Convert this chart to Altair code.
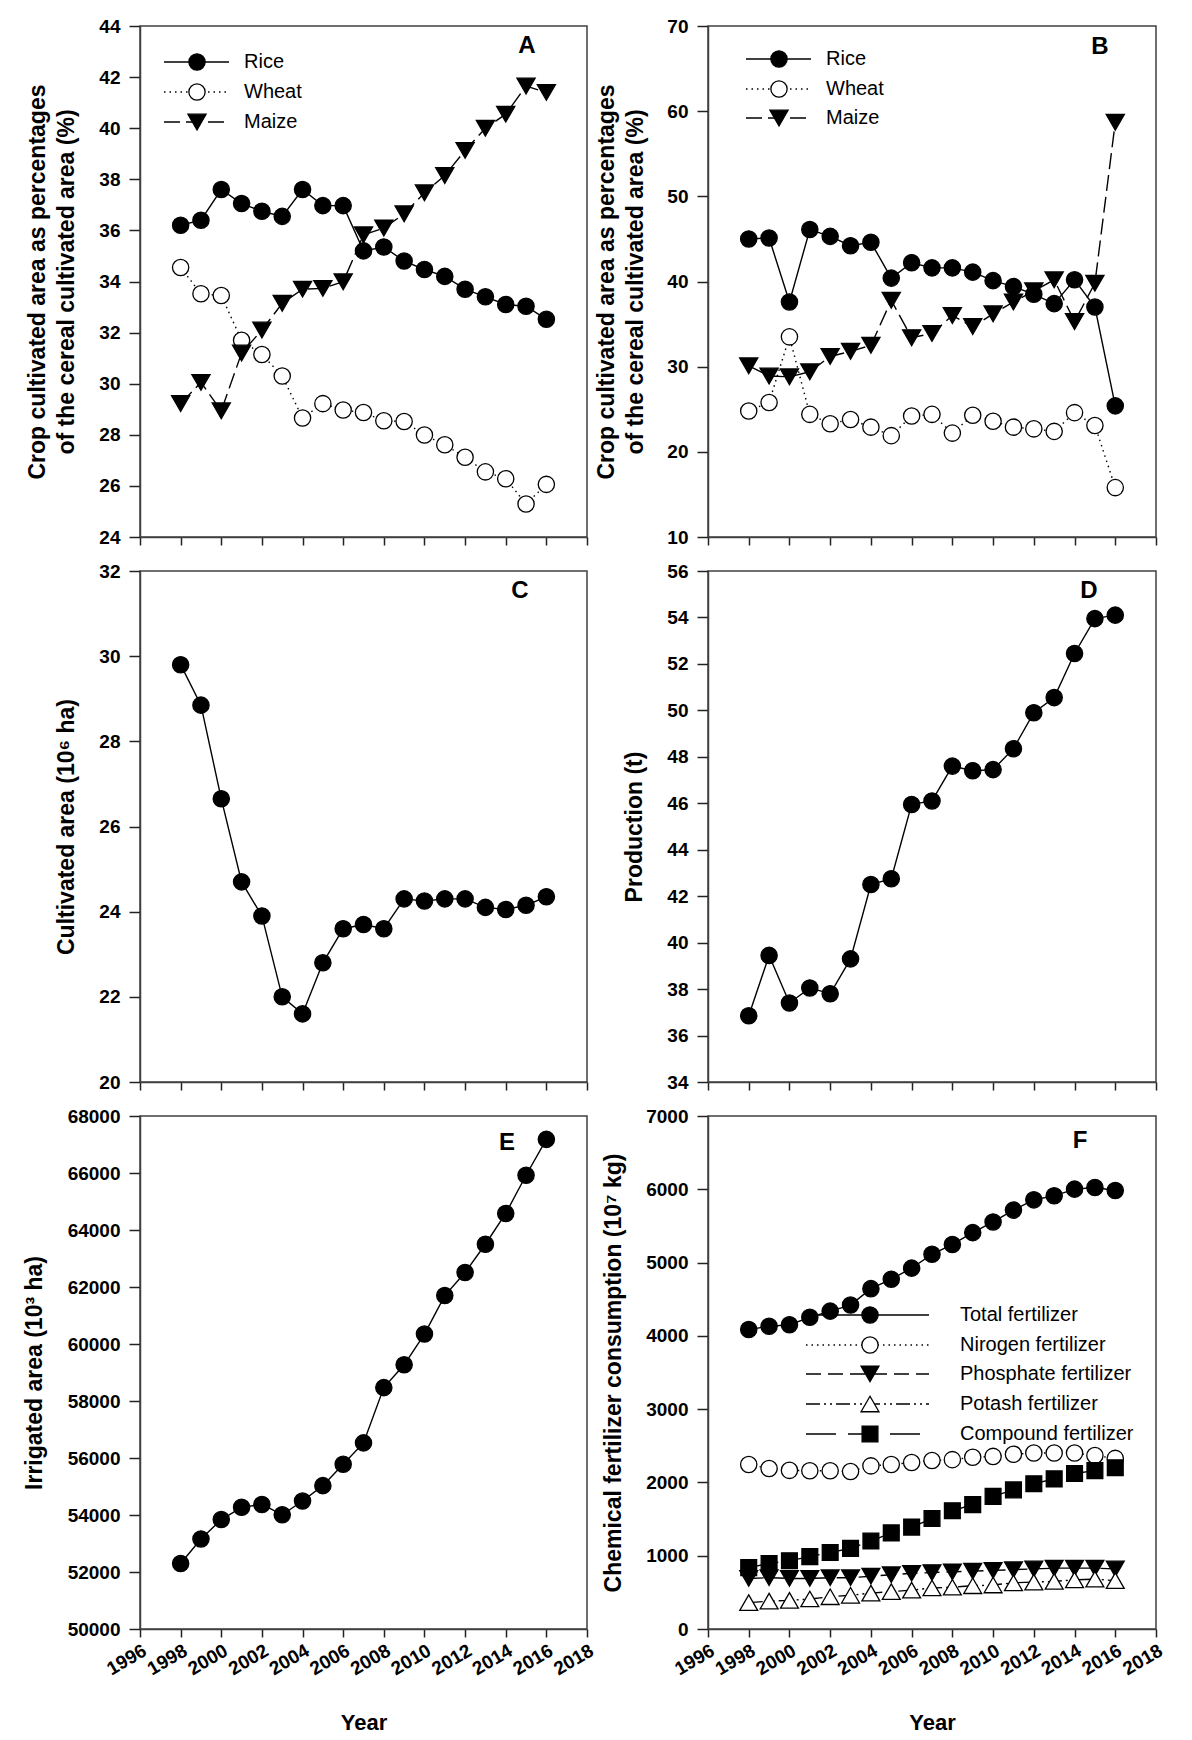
import altair as alt
import pandas as pd

# ---------------- data ----------------
years = list(range(1998, 2017))

# Panel A
a_rice = [36.2, 36.4, 37.6, 37.05, 36.75, 36.55, 37.6, 36.97, 36.97, 35.2, 35.35, 34.8, 34.47, 34.2, 33.7, 33.4, 33.1, 33.03, 32.52]
a_wheat = [34.55, 33.52, 33.45, 31.7, 31.14, 30.3, 28.66, 29.22, 28.97, 28.87, 28.55, 28.52, 27.99, 27.61, 27.12, 26.55, 26.28, 25.29, 26.06]
a_maize = [29.22, 30.05, 28.94, 31.2, 32.1, 33.15, 33.7, 33.73, 33.99, 35.83, 36.09, 36.65, 37.47, 38.15, 39.13, 40.0, 40.55, 41.65, 41.4]

# Panel B
b_rice = [45.0, 45.1, 37.6, 46.1, 45.3, 44.2, 44.6, 40.4, 42.2, 41.6, 41.6, 41.1, 40.1, 39.4, 38.5, 37.4, 40.2, 37.0, 25.4]
b_wheat = [24.8, 25.8, 33.5, 24.4, 23.3, 23.8, 22.9, 21.9, 24.2, 24.4, 22.2, 24.3, 23.6, 22.9, 22.7, 22.4, 24.6, 23.1, 15.8]
b_maize = [30.1, 28.9, 28.8, 29.4, 31.2, 31.8, 32.5, 37.8, 33.4, 33.9, 36.0, 34.7, 36.2, 37.6, 38.9, 40.2, 35.3, 39.8, 58.7]

# Panel C
c_area = [29.8, 28.85, 26.65, 24.7, 23.9, 22.0, 21.6, 22.8, 23.6, 23.7, 23.6, 24.3, 24.25, 24.3, 24.3, 24.1, 24.05, 24.15, 24.35]

# Panel D
d_prod = [36.85, 39.45, 37.4, 38.05, 37.8, 39.3, 42.5, 42.75, 45.95, 46.1, 47.6, 47.4, 47.45, 48.35, 49.9, 50.55, 52.45, 53.95, 54.1]

# Panel E
e_irr = [52300, 53160, 53840, 54270, 54370, 54010, 54490, 55030, 55780, 56530, 58470, 59270, 60350, 61700, 62510, 63500, 64580, 65920, 67180]

# Panel F
f_total = [4086, 4130, 4152, 4253, 4337, 4420, 4644, 4773, 4924, 5113, 5247, 5409, 5554, 5716, 5856, 5911, 6002, 6025, 5984]
f_nitrogen = [2244, 2190, 2165, 2160, 2160, 2150, 2226, 2244, 2272, 2300, 2311, 2344, 2355, 2384, 2401, 2401, 2401, 2367, 2328]
f_phosphate = [690, 700, 690, 690, 700, 700, 720, 740, 760, 770, 780, 790, 800, 810, 820, 830, 830, 830, 820]
f_potash = [360, 380, 390, 410, 440, 460, 490, 510, 530, 560, 570, 590, 600, 630, 640, 650, 670, 680, 660]
f_compound = [837, 893, 932, 988, 1044, 1100, 1200, 1312, 1390, 1507, 1614, 1697, 1809, 1898, 1982, 2049, 2122, 2161, 2200]

crop_labels = ["Rice", "Wheat", "Maize"]
fert_labels = ["Total fertilizer", "Nirogen fertilizer", "Phosphate fertilizer", "Potash fertilizer", "Compound fertilizer"]
x_ticks = list(range(1996, 2019, 2))

# ---------------- styles ----------------
FONT = "Liberation Sans"
W_L, W_R = 447, 448
H_ROW = [511, 511, 513]

STY_RICE = dict(dash=None, shape="circle", fill="black", size=265)
STY_WHEAT = dict(dash=[1.5, 4], shape="circle", fill="white", size=265)
STY_MAIZE = dict(dash=[16, 6], shape="triangle-down", fill="black", size=330)
STY_TOTAL = dict(dash=None, shape="circle", fill="black", size=265)
STY_N = dict(dash=[1.5, 4], shape="circle", fill="white", size=265)
STY_P = dict(dash=[15, 7], shape="triangle-down", fill="black", size=320)
STY_K = dict(dash=[14, 4, 2, 4, 2, 4], shape="triangle-up", fill="white", size=320)
STY_C = dict(dash=[30, 12], shape="square", fill="black", size=250)


def x_enc(width, bottom):
    if bottom:
        axis = alt.Axis(values=x_ticks, format="d", labelAngle=-30, labelAlign="right",
                        labelBaseline="top", labelPadding=4, tickSize=8, labelOverlap=False,
                        labelFlush=False,
                        title="Year", titleX=width / 2, titleY=93, titleBaseline="middle",
                        titleFontSize=22)
    else:
        axis = alt.Axis(values=x_ticks, labels=False, tickSize=8, title=None)
    return alt.X("year:Q", scale=alt.Scale(domain=[1996, 2018], nice=False, zero=False), axis=axis)


def y_enc(lo, hi, step, title, title_x, height):
    vals = list(range(lo, hi + 1, step))
    axis = alt.Axis(values=vals, format="d", tickSize=11, labelPadding=9, labelOverlap=False,
                    labelFlush=False,
                    title=title, titleX=title_x, titleY=height / 2, titleAngle=-90,
                    titleAlign="center", titleBaseline="middle", titleLineHeight=29)
    return alt.Y("value:Q", scale=alt.Scale(domain=[lo, hi], nice=False, zero=False), axis=axis)


def series(values, sty, X, Y):
    df = pd.DataFrame({"year": years, "value": values})
    base = alt.Chart(df)
    lk = dict(color="black", strokeWidth=1.4)
    if sty["dash"]:
        lk["strokeDash"] = sty["dash"]
    line = base.mark_line(**lk).encode(x=X, y=Y)
    pts = base.mark_point(shape=sty["shape"], filled=True, fill=sty["fill"], stroke="black",
                          strokeWidth=1.3, size=sty["size"], opacity=1).encode(x=X, y=Y)
    return [line, pts]


def legend(labels, styles, x0, x1, xm, xt, ys):
    layers = []
    for label, sty, y in zip(labels, styles, ys):
        d = pd.DataFrame({"label": [label]})
        rk = dict(color="black", strokeWidth=1.4)
        if sty["dash"]:
            rk["strokeDash"] = sty["dash"]
        layers.append(alt.Chart(d).mark_rule(**rk).encode(
            x=alt.value(x0), x2=alt.value(x1), y=alt.value(y)))
        layers.append(alt.Chart(d).mark_point(
            shape=sty["shape"], filled=True, fill=sty["fill"], stroke="black",
            strokeWidth=1.3, size=sty["size"], opacity=1).encode(x=alt.value(xm), y=alt.value(y)))
        layers.append(alt.Chart(d).mark_text(
            align="left", baseline="middle", font=FONT, fontSize=20, color="black").encode(
            x=alt.value(xt), y=alt.value(y), text="label:N"))
    return layers


def letter(txt, x, y):
    d = pd.DataFrame({"label": [txt]})
    return alt.Chart(d).mark_text(align="center", baseline="middle", font=FONT, fontSize=24,
                                  fontWeight="bold", color="black").encode(
        x=alt.value(x), y=alt.value(y), text="label:N")


def page_anchor():
    # invisible anchor fixing the top-left extent of the figure (layout only)
    d = pd.DataFrame({"label": ["anchor"]})
    return alt.Chart(d).mark_rule(color="white", strokeWidth=0.5).encode(
        x=alt.value(-131), x2=alt.value(-131), y=alt.value(-17), y2=alt.value(-16))


def panel(width, height, bottom, ylo, yhi, ystep, title, title_x, series_list, extra):
    X = x_enc(width, bottom)
    Y = y_enc(ylo, yhi, ystep, title, title_x, height)
    layers = []
    for vals, sty in series_list:
        layers += series(vals, sty, X, Y)
    layers += extra
    return alt.layer(*layers).properties(width=width, height=height)


crop_title = ["Crop cultivated area as percentages", "of the cereal cultivated area (%)"]

pA = panel(W_L, H_ROW[0], False, 24, 44, 2, crop_title, -103,
           [(a_rice, STY_RICE), (a_wheat, STY_WHEAT), (a_maize, STY_MAIZE)],
           legend(crop_labels, [STY_RICE, STY_WHEAT, STY_MAIZE], 24, 89, 57, 104, [36, 66, 96])
           + [letter("A", 387, 20), page_anchor()])

pB = panel(W_R, H_ROW[0], False, 10, 70, 10, crop_title, -102,
           [(b_rice, STY_RICE), (b_wheat, STY_WHEAT), (b_maize, STY_MAIZE)],
           legend(crop_labels, [STY_RICE, STY_WHEAT, STY_MAIZE], 38, 103, 71, 118, [33, 63, 92])
           + [letter("B", 392, 21)])

pC = panel(W_L, H_ROW[1], False, 20, 32, 2, "Cultivated area (10\u2076 ha)", -74,
           [(c_area, STY_RICE)], [letter("C", 380, 20)])

pD = panel(W_R, H_ROW[1], False, 34, 56, 2, "Production (t)", -74,
           [(d_prod, STY_RICE)], [letter("D", 381, 20)])

pE = panel(W_L, H_ROW[2], True, 50000, 68000, 2000, "Irrigated area (10\u00b3 ha)", -106,
           [(e_irr, STY_RICE)], [letter("E", 367, 27)])

pF = panel(W_R, H_ROW[2], True, 0, 7000, 1000, "Chemical fertilizer consumption (10\u2077 kg)", -95,
           [(f_total, STY_TOTAL), (f_nitrogen, STY_N), (f_phosphate, STY_P),
            (f_potash, STY_K), (f_compound, STY_C)],
           legend(fert_labels, [STY_TOTAL, STY_N, STY_P, STY_K, STY_C], 98, 221, 162, 252,
                  [199, 229, 258, 288, 318])
           + [letter("F", 372, 25)])

chart = alt.concat(pA, pB, pC, pD, pE, pF, columns=2,
                   spacing={"row": 34, "column": 121}, bounds="flush").properties(
    padding={"left": 0, "top": 0, "right": 5, "bottom": 5}
).configure(background="white").configure_axis(
    labelFont=FONT, labelFontSize=19, labelFontWeight="bold", labelColor="black",
    titleFont=FONT, titleFontSize=23, titleFontWeight="bold", titleColor="black",
    domainColor="#404040", domainWidth=1.5, tickColor="#222222", tickWidth=1.5, grid=False
).configure_view(stroke="#404040", strokeWidth=1.5)

chart.save("out.html", embed_options={"renderer": "svg", "actions": False})
